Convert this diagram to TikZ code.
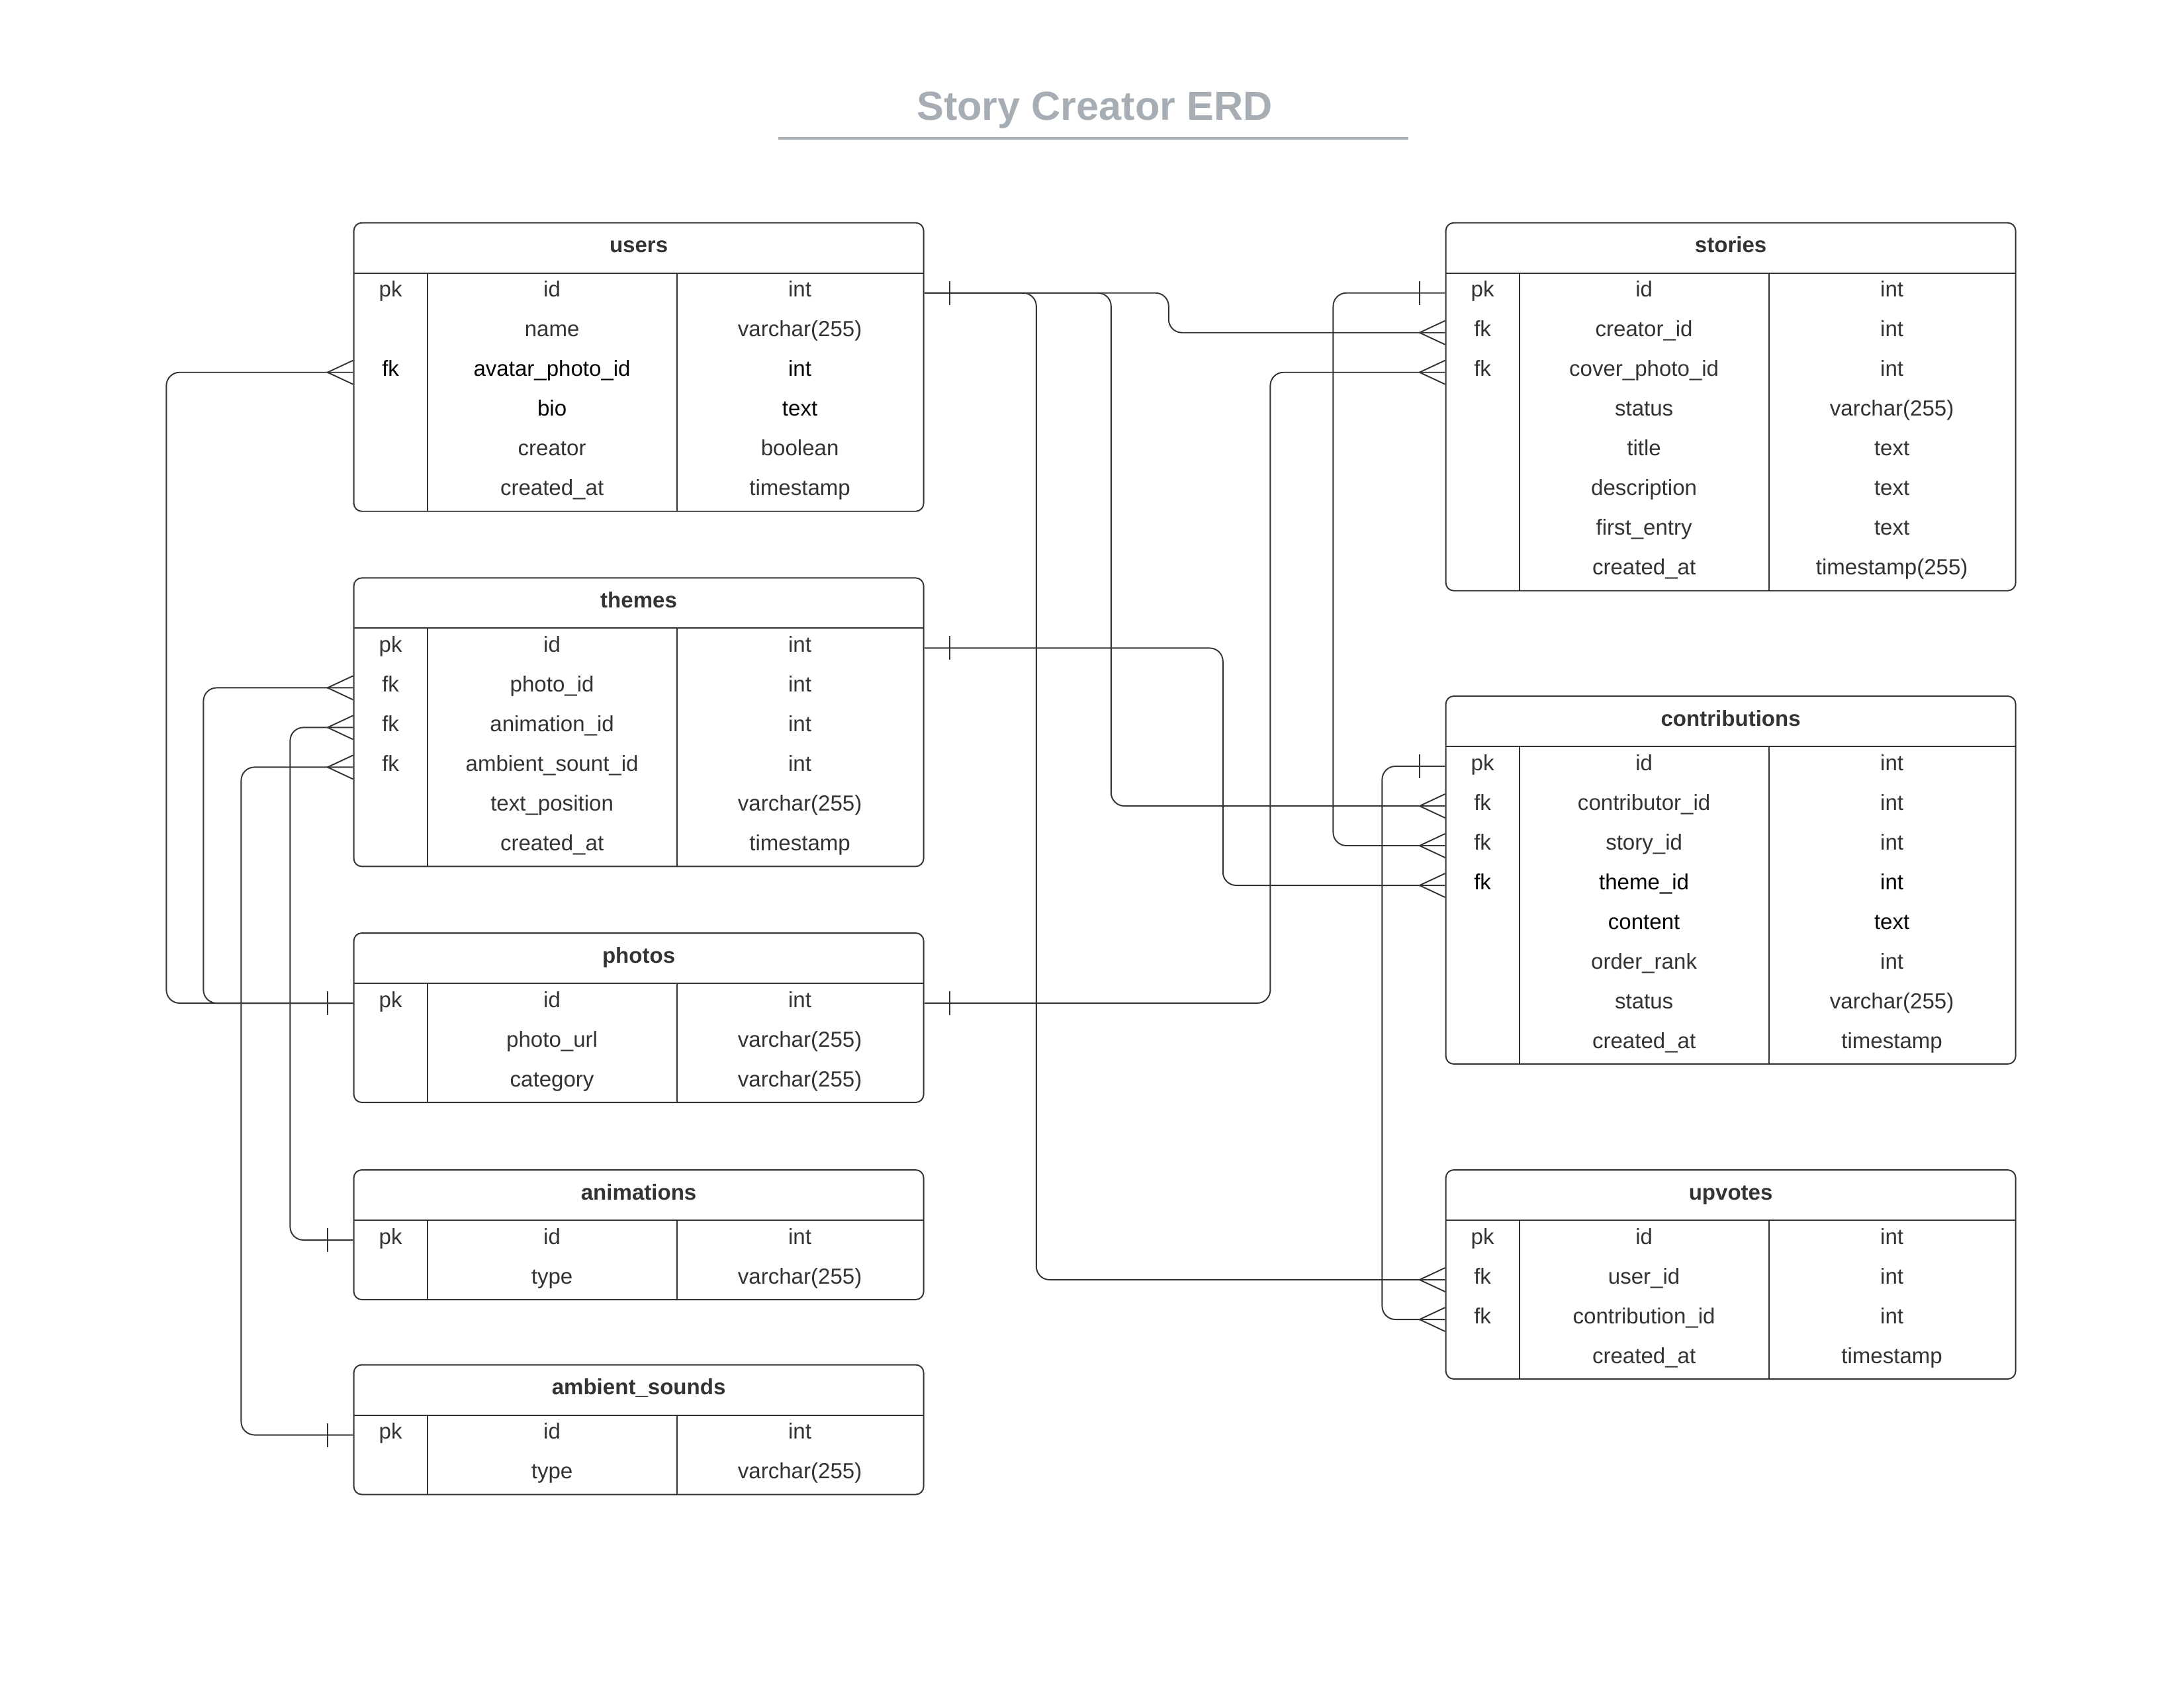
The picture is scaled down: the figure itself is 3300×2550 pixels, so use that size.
\documentclass[tikz,border=0pt]{standalone}
\usepackage{fontspec}
\setmainfont{Liberation Sans}
\usetikzlibrary{calc}

% one mark at a primary key end, side = -1 (west) or 1 (east)
\newcommand{\onebar}[2]{\draw[ink] ($(#1)+(#2*38.5,-18)$) -- ++(0,36);}
% many mark at a foreign key end (always on the west side)
\newcommand{\crowfoot}[1]{\draw[ink] ($(#1)+(0,-18)$) -- ($(#1)+(-38.5,0)$) -- ($(#1)+(0,18)$);}
\newcommand{\dk}[1]{\textcolor{black}{#1}}

% table: name, left, top, title, number of rows, key/field/type list
\newcommand{\erdtable}[6]{%
  \draw[tablebox] (#2,#3) rectangle ++(861,76+60*#5);
  \draw[ink] (#2,#3+76) -- ++(861,0);
  \draw[ink] (#2+111,#3+76) -- ++(0,60*#5);
  \draw[ink] (#2+488,#3+76) -- ++(0,60*#5);
  \node[headtext] (#1-title) at (#2+430.5,#3+45) {#4};
  \foreach \colkey/\colname/\coltype [count=\row] in {#6} {
    \node[rowbox] (#1-\row) at (#2+430.5,#3+46+60*\row) {};
    \node[celltext] (#1-\row-key) at (#2+55.5,#3+52+60*\row) {\colkey};
    \node[celltext] (#1-\row-name) at (#2+299.5,#3+52+60*\row) {\colname};
    \node[celltext] (#1-\row-type) at (#2+674,#3+52+60*\row) {\coltype};
  }
}

\begin{document}
\begin{tikzpicture}[x=0.01cm,y=-0.01cm,line width=0.55pt,
  tablebox/.style={draw=ink,rounded corners=1.2mm},
  rowbox/.style={minimum width=8.61cm,minimum height=0.6cm,inner sep=0pt},
  celltext/.style={anchor=base,inner sep=0pt,text=ink,font=\fontsize{9.4}{11}\selectfont},
  headtext/.style={anchor=base,inner sep=0pt,text=ink,font=\fontsize{9.4}{11}\selectfont\bfseries},
  link/.style={draw=ink,rounded corners=2mm}]

  % Define colors
  \definecolor{ink}{RGB}{51,51,51}
  \definecolor{titlegray}{RGB}{167,173,181}

  \useasboundingbox (0,0) rectangle (3300,2550);

  % title
  \node[anchor=base,inner sep=0pt,text=titlegray,font=\fontsize{17.4}{20}\selectfont\bfseries]
    (title) at (1654,181) {Story Creator ERD};
  \draw[titlegray,line width=1.1pt] (1176,209) -- (2128,209);

  % left tables
  \erdtable{users}{534.6}{336.7}{users}{6}{pk/id/int, /name/varchar(255),
    \dk{fk}/\dk{avatar\_photo\_id}/\dk{int}, /\dk{bio}/\dk{text},
    /creator/boolean, /created\_at/timestamp}
  \erdtable{themes}{534.6}{873.4}{themes}{6}{pk/id/int, fk/photo\_id/int,
    fk/animation\_id/int, fk/ambient\_sount\_id/int,
    /text\_position/varchar(255), /created\_at/timestamp}
  \erdtable{photos}{534.6}{1410}{photos}{3}{pk/id/int,
    /photo\_url/varchar(255), /category/varchar(255)}
  \erdtable{animations}{534.6}{1768}{animations}{2}{pk/id/int, /type/varchar(255)}
  \erdtable{sounds}{534.6}{2062.5}{ambient\_sounds}{2}{pk/id/int, /type/varchar(255)}

  % right tables
  \erdtable{stories}{2184.6}{336.7}{stories}{8}{pk/id/int, fk/creator\_id/int,
    fk/cover\_photo\_id/int, /status/varchar(255), /title/text,
    /description/text, /first\_entry/text, /created\_at/timestamp(255)}
  \erdtable{contributions}{2184.6}{1052}{contributions}{8}{pk/id/int,
    fk/contributor\_id/int, fk/story\_id/int,
    \dk{fk}/\dk{theme\_id}/\dk{int}, /\dk{content}/\dk{text},
    /order\_rank/int, /status/varchar(255), /created\_at/timestamp}
  \erdtable{upvotes}{2184.6}{1768}{upvotes}{4}{pk/id/int, fk/user\_id/int,
    fk/contribution\_id/int, /created\_at/timestamp}

  % relations from users
  \draw[link] (users-1.east) -- ++(369,0) |- (stories-2.west);
  \draw[link] (users-1.east) -- ++(282,0) |- (contributions-2.west);
  \draw[link] (users-1.east) -- ++(169,0) |- (upvotes-2.west);
  \onebar{users-1.east}{1}
  \crowfoot{stories-2.west}
  \crowfoot{contributions-2.west}
  \crowfoot{upvotes-2.west}

  % stories -> contributions
  \draw[link] (stories-1.west) -- ++(-169,0) |- (contributions-3.west);
  \onebar{stories-1.west}{-1}
  \crowfoot{contributions-3.west}

  % photos -> stories cover
  \draw[link] (stories-3.west) -- ++(-264,0) |- (photos-1.east);
  \crowfoot{stories-3.west}
  \onebar{photos-1.east}{1}

  % themes -> contributions
  \draw[link] (themes-1.east) -- ++(451,0) |- (contributions-4.west);
  \onebar{themes-1.east}{1}
  \crowfoot{contributions-4.west}

  % contributions -> upvotes
  \draw[link] (contributions-1.west) -- ++(-95,0) |- (upvotes-3.west);
  \onebar{contributions-1.west}{-1}
  \crowfoot{upvotes-3.west}

  % photos -> users avatar, themes photo
  \draw[link] (users-3.west) -- ++(-282,0) |- (photos-1.west);
  \draw[link] (themes-2.west) -- ++(-226,0) |- (photos-1.west);
  \crowfoot{users-3.west}
  \crowfoot{themes-2.west}
  \onebar{photos-1.west}{-1}

  % animations, ambient sounds -> themes
  \draw[link] (themes-3.west) -- ++(-95,0) |- (animations-1.west);
  \draw[link] (themes-4.west) -- ++(-169,0) |- (sounds-1.west);
  \crowfoot{themes-3.west}
  \crowfoot{themes-4.west}
  \onebar{animations-1.west}{-1}
  \onebar{sounds-1.west}{-1}

\end{tikzpicture}
\end{document}
